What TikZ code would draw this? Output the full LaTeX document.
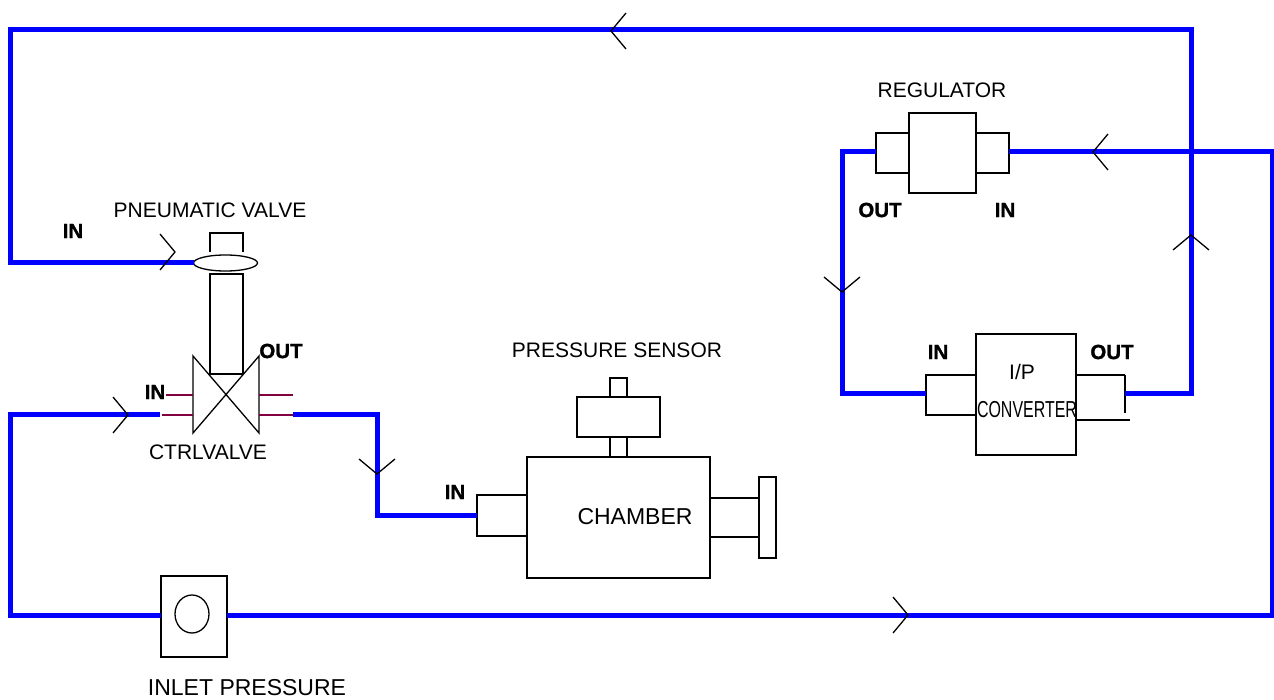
\documentclass[tikz,border=0pt]{standalone}
\usepackage{fontspec}
\setmainfont{Liberation Sans}
\newfontfamily\tagfont[FakeBold=1.2]{Liberation Sans Bold}
\usetikzlibrary{shapes.geometric}
\definecolor{pipeblue}{RGB}{0,0,255}
\definecolor{portred}{RGB}{128,0,64}
\tikzset{
  pipe/.style={draw=pipeblue, line width=5pt, line join=miter},
  part/.style={draw=black, line width=1.3pt, inner sep=0pt, outer sep=0pt, rectangle},
  partline/.style={draw=black, line width=1.3pt},
  portline/.style={draw=portred, line width=1.3pt},
  lab/.style={inner sep=0pt, font=\fontsize{21}{24}\selectfont},
  biglab/.style={inner sep=0pt, font=\fontsize{23}{26}\selectfont},
  tag/.style={inner sep=0pt, font=\fontsize{20.5}{24}\tagfont},
  chev/.pic={\draw[line width=1.3pt, black] (-15,-18) -- (0,0) -- (-15,18);}
}
\begin{document}
\begin{tikzpicture}[x=1pt, y=-1pt]
\useasboundingbox (0,0) rectangle (1274,700);

% ---------- pneumatic valve + control valve ----------
\node[draw, line width=1.3pt, ellipse, minimum width=64pt, minimum height=16pt, inner sep=0pt, outer sep=0pt] (diaph) at (225.5,263) {};
\draw[partline] (210,252) -- (210,233) -- (243,233) -- (243,252);
\node[part, minimum width=33pt, minimum height=100pt] (stem) at (226.5,324) {};
\draw[partline] (193,356) -- (259,433) -- (259,356) -- (193,433) -- cycle;
\draw[portline] (166,395) -- (193,395);
\draw[portline] (162,415) -- (193,415);
\draw[portline] (259,395) -- (293,395);
\draw[portline] (259,415) -- (293,415);
\coordinate (cvIn) at (160,414);
\coordinate (cvOut) at (293,414);

\node[lab] (pvlab) at (210,210) {PNEUMATIC VALVE};
\node[tag] (pvin) at (73,231) {IN};
\node[tag] (cvoutlab) at (281,351) {OUT};
\node[tag] (cvinlab) at (155,392) {IN};
\node[lab] (cvlab) at (208,452) {CTRLVALVE};

% ---------- chamber + pressure sensor ----------
\node[part, minimum width=183pt, minimum height=121pt] (chamber) at (618.5,517.5) {};
\node[part, minimum width=50pt, minimum height=41pt] (chport) at (502,515.5) {};
\node[part, minimum width=49pt, minimum height=39pt] (chrport) at (734.5,517.5) {};
\node[part, minimum width=17pt, minimum height=81pt] (flange) at (767.5,517.5) {};
\node[part, minimum width=83pt, minimum height=40pt] (sensor) at (618.5,417) {};
\node[part, minimum width=17pt, minimum height=20pt] (sstemlo) at (618.5,447) {};
\node[part, minimum width=17pt, minimum height=19pt] (sstemhi) at (618.5,387.5) {};
\node[lab] (pslab) at (617,350) {PRESSURE SENSOR};
\node[biglab] (chlab) at (635,517) {CHAMBER};
\node[tag] (chinlab) at (455,492) {IN};

% ---------- regulator ----------
\node[part, minimum width=67pt, minimum height=80pt] (reg) at (942.5,153) {};
\node[part, minimum width=33pt, minimum height=40pt] (regl) at (892.5,153) {};
\node[part, minimum width=33pt, minimum height=40pt] (regr) at (992.5,153) {};
\coordinate (regIn) at (1009,152);
\coordinate (regOut) at (876,152);
\node[lab] (reglab) at (942,90) {REGULATOR};
\node[tag] (regoutlab) at (880,210) {OUT};
\node[tag] (reginlab) at (1005,210) {IN};

% ---------- I/P converter ----------
\node[part, minimum width=100pt, minimum height=121pt] (ip) at (1026,394.5) {};
\node[part, minimum width=50pt, minimum height=40pt] (ipl) at (951,395) {};
\draw[partline] (1076,375) -- (1125,375);
\draw[partline] (1125,375) -- (1125,413);
\draw[partline] (1077,420) -- (1130,420);
\coordinate (ipIn) at (926,393);
\coordinate (ipOut) at (1125,393);
\node[lab] (iplab) at (1022,372) {I/P};
\node[lab] (convlab) at (1027,410) {\scalebox{0.76}[1.1]{CONVERTER}};
\node[tag] (ipinlab) at (938,352) {IN};
\node[tag] (ipoutlab) at (1112,352) {OUT};

% ---------- inlet pressure ----------
\node[part, minimum width=66pt, minimum height=81pt] (inlet) at (194,616.5) {};
\node[draw, line width=1.3pt, ellipse, minimum width=34pt, minimum height=38pt, inner sep=0pt] (gauge) at (192,614) {};
\node[biglab] (inletlab) at (247,688) {INLET PRESSURE};
\coordinate (inletL) at (161,615);
\coordinate (inletR) at (227,615);

% ---------- corner coordinates ----------
\coordinate (trc) at (1191,30);
\coordinate (tlc) at (10,30);
\coordinate (rrc) at (1272,152);
\coordinate (blc) at (10,615);
\coordinate (vmid) at (377,465);
\coordinate (rmid) at (842,290);

% ---------- pipes ----------
\draw[pipe] (ipOut) -| (trc) -- (tlc) |- (diaph.west);
\draw[pipe] (inletR) -| (rrc) -- (regIn);
\draw[pipe] (inletL) -- (blc) |- (cvIn);
\draw[pipe] (cvOut) -| (vmid) |- (chport.west);
\draw[pipe] (regOut) -| (rmid) |- (ipIn);

% ---------- flow arrows ----------
\pic[rotate=180] at (611,31) {chev};
\pic at (175,252) {chev};
\pic at (128,415) {chev};
\pic[rotate=180] at (1093,152) {chev};
\pic[rotate=90] at (1191,235) {chev};
\pic[rotate=-90] at (842,292) {chev};
\pic[rotate=-90] at (377,474) {chev};
\pic at (908,615) {chev};
\end{tikzpicture}
\end{document}
